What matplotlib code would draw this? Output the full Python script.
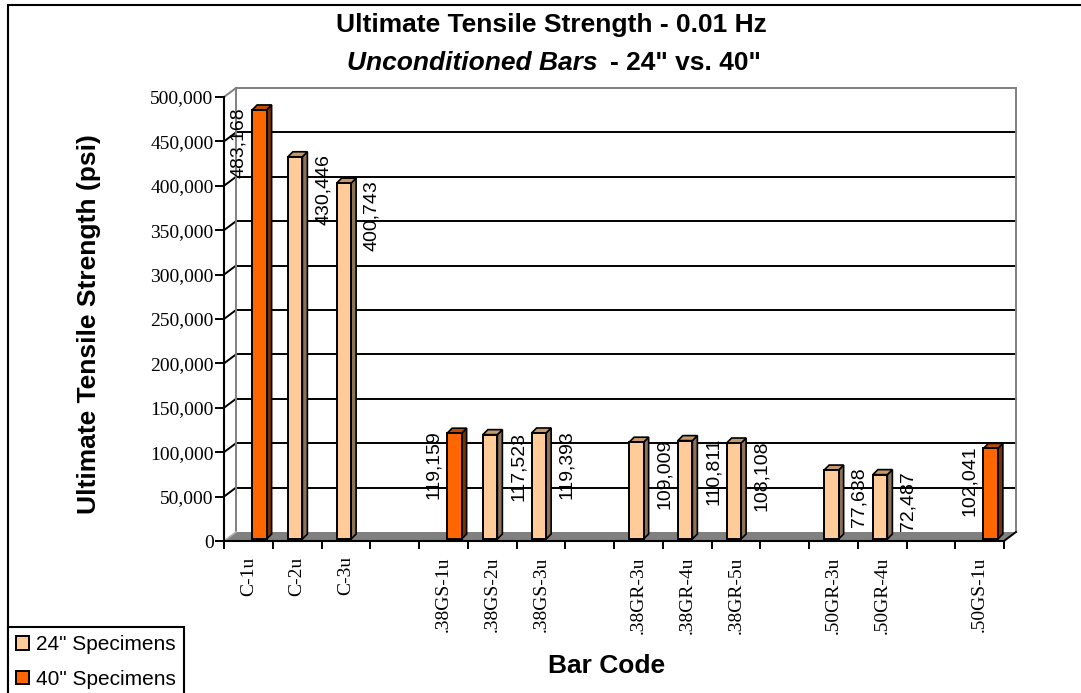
import numpy as np
import matplotlib
matplotlib.use("Agg")
import matplotlib.pyplot as plt
from matplotlib.patches import Polygon, Patch, Rectangle
from matplotlib.ticker import FuncFormatter

# Data
categories = ["C-1u", "C-2u", "C-3u", "",
              ".38GS-1u", ".38GS-2u", ".38GS-3u", "",
              ".38GR-3u", ".38GR-4u", ".38GR-5u", "",
              ".50GR-3u", ".50GR-4u", "", ".50GS-1u"]
nan = np.nan
spec_24 = [nan, 430446, 400743, nan,
           nan, 117523, 119393, nan,
           109009, 110811, 108108, nan,
           77638, 72487, nan, nan]
spec_40 = [483168, nan, nan, nan,
           119159, nan, nan, nan,
           nan, nan, nan, nan,
           nan, nan, nan, 102041]
y_ticks = list(range(0, 500001, 50000))

W, H = 1081, 693
SERIF = "Liberation Serif"
SANS = "Liberation Sans"

fig = plt.figure(figsize=(W / 100, H / 100), dpi=100)
ax = fig.add_axes([224 / W, 1 - 541 / H, (1004 - 224) / W, (541 - 97) / H])
n = len(categories)
ax.set_xlim(-0.5, n - 0.5)
ax.set_ylim(0, 500000)
ax.patch.set_visible(False)

# pixel -> data helpers
px_x = n / 780.0
px_y = 500000 / 444.0
DX, DY = 12 * px_x, 9 * px_y          # depth of the back wall
x0, x1 = -0.5, n - 0.5

# floor
ax.add_patch(Polygon([(x0, 0), (x1, 0), (x1 + DX, DY), (x0 + DX, DY)],
                     closed=True, facecolor="#808080", edgecolor="none",
                     zorder=1, clip_on=False))

# back wall grid and edges
for v in y_ticks[1:-1]:
    ax.plot([x0 + DX, x1 + DX], [v + DY, v + DY], color="black", lw=1.4,
            zorder=2, clip_on=False)
    ax.plot([x0, x0 + DX], [v, v + DY], color="black", lw=1.4,
            zorder=2, clip_on=False)
top = y_ticks[-1]
ax.plot([x0 + DX, x1 + DX], [top + DY, top + DY], color="#808080", lw=1.4,
        zorder=2, clip_on=False)
ax.plot([x0, x0 + DX], [top, top + DY], color="#808080", lw=1.4,
        zorder=2, clip_on=False)
ax.plot([x0 + DX, x0 + DX], [DY, top + DY], color="#808080", lw=1.4,
        zorder=2, clip_on=False)
ax.plot([x1 + DX, x1 + DX], [DY, top + DY], color="#808080", lw=1.4,
        zorder=2, clip_on=False)
ax.plot([x0, x0 + DX], [0, DY], color="#b0b0b0", lw=1.2, zorder=2,
        clip_on=False)
ax.plot([x1, x1 + DX], [0, DY], color="black", lw=1.4, zorder=2,
        clip_on=False)

# bars with a little 3D depth
BW = 14.5 * px_x
BL = 2 * px_y
bdx, bdy = 5 * px_x, 5 * px_y
series = [
    (spec_24, -2 * px_x, 26 * px_x, "#FFCC99", "#8C7358", "#C49A6C"),
    (spec_40, 11 * px_x, -10 * px_x, "#FF6600", "#7A3000", "#BF4C00"),
]
xs = np.arange(n)
for vals, off, loff, front, side, topc in series:
    vals = np.array(vals, dtype=float)
    m = ~np.isnan(vals)
    xb = xs[m] + off
    vb = vals[m]
    ax.bar(xb, vb, width=BW, bottom=BL, color=front, edgecolor="black",
           lw=1.4, zorder=4)
    for xc, v in zip(xb, vb):
        l, r, b, t = xc - BW / 2, xc + BW / 2, BL, BL + v
        ax.add_patch(Polygon([(r, b), (r + bdx, b + bdy), (r + bdx, t + bdy), (r, t)],
                             closed=True, facecolor=side, edgecolor="black",
                             lw=1.2, zorder=3))
        ax.add_patch(Polygon([(l, t), (r, t), (r + bdx, t + bdy), (l + bdx, t + bdy)],
                             closed=True, facecolor=topc, edgecolor="black",
                             lw=1.2, zorder=3))
        ax.text(xc - off + loff, v + 5 * px_y, f"{v:,.0f}", rotation=90,
                ha="center", va="top", fontsize=14, family=SANS, zorder=6)

# axes styling
for s in ["top", "right"]:
    ax.spines[s].set_visible(False)
for s in ["left", "bottom"]:
    ax.spines[s].set_linewidth(1.5)
    ax.spines[s].set_zorder(5)

ax.set_yticks(y_ticks)
ax.yaxis.set_major_formatter(FuncFormatter(lambda v, p: f"{v:,.0f}"))
ax.tick_params(axis="y", length=6.5, width=1.4, pad=1, labelsize=14)
for lab in ax.get_yticklabels():
    lab.set_family(SERIF)

ax.set_xticks(xs)
ax.set_xticklabels(categories, rotation=90, family=SERIF, fontsize=14)
ax.set_xticks(np.arange(-0.5, n, 1), minor=True)
ax.tick_params(axis="x", which="major", length=0, pad=11)
ax.tick_params(axis="x", which="minor", length=5.8, width=1.4)

# labels and titles
fig.text(89 / W, 1 - 324 / H, "Ultimate Tensile Strength (psi)", rotation=90,
         ha="center", va="center", fontsize=19, fontweight="bold", family=SANS)
fig.text(607 / W, 1 - 673 / H, "Bar Code", ha="center", va="baseline",
         fontsize=19, fontweight="bold", family=SANS)
fig.text(551 / W, 1 - 32 / H, "Ultimate Tensile Strength - 0.01 Hz",
         ha="center", va="baseline", fontsize=19, fontweight="bold", family=SANS)
t_it = fig.text(347 / W, 1 - 70 / H, "Unconditioned Bars", ha="left",
                va="baseline", fontsize=19, fontweight="bold", style="italic",
                family=SANS)
fig.canvas.draw()
ext = t_it.get_window_extent()
fig.text((ext.x1 + 13) / W, 1 - 70 / H, '- 24" vs. 40"', ha="left",
         va="baseline", fontsize=19, fontweight="bold", family=SANS)

# outer chart border (runs off the right and bottom edges)
fig.add_artist(Rectangle((8 / W, -0.05), 1.1, 1 - 5 / H + 0.05,
                         transform=fig.transFigure, fill=False,
                         edgecolor="black", lw=1.5))

handles = [Patch(facecolor="#FFCC99", edgecolor="black", lw=1.4, label='24" Specimens'),
           Patch(facecolor="#FF6600", edgecolor="black", lw=1.4, label='40" Specimens')]
leg = fig.legend(handles=handles, loc="upper left",
                 bbox_to_anchor=(8 / W, 1 - 627 / H), bbox_transform=fig.transFigure,
                 frameon=True, fancybox=False, edgecolor="black", framealpha=1,
                 borderaxespad=0, borderpad=0.4, handlelength=0.62,
                 handleheight=0.62, handletextpad=0.3, labelspacing=0.75,
                 prop={"family": SANS, "size": 15})
leg.get_frame().set_linewidth(1.5)

fig.savefig("out.png", dpi=100)
